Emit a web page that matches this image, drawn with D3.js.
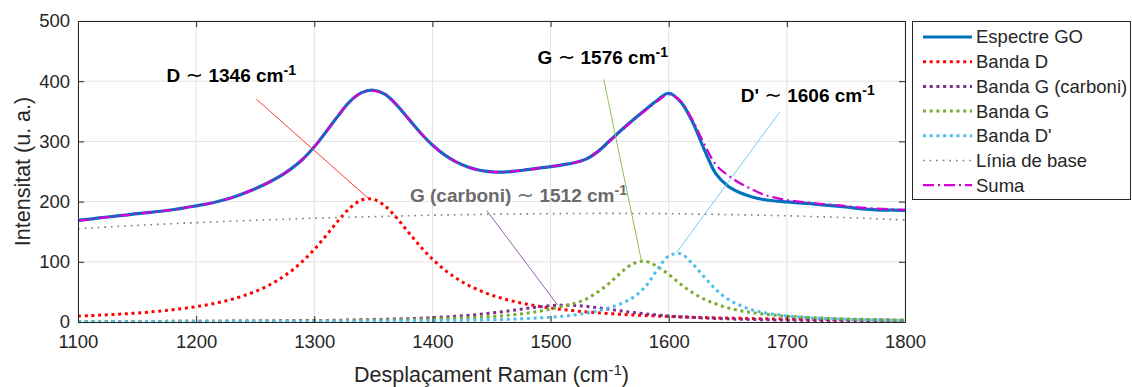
<!DOCTYPE html>
<html>
<head>
<meta charset="utf-8">
<script src="https://cdn.jsdelivr.net/npm/d3@7"></script>
<style>
  body { margin: 0; background: #fff; }
  text { font-family: "Liberation Sans", Arial, Helvetica, sans-serif; fill: #262626; }
</style>
</head>
<body>
<div id="chart"></div>
<script>
// Raman shift (cm-1), one sample every 10 cm-1
const ramanShift = [1100,1110,1120,1130,1140,1150,1160,1170,1180,1190,
  1200,1210,1220,1230,1240,1250,1260,1270,1280,1290,
  1300,1310,1320,1330,1340,1350,1360,1370,1380,1390,
  1400,1410,1420,1430,1440,1450,1460,1470,1480,1490,
  1500,1510,1520,1530,1540,1550,1560,1570,1580,1590,
  1600,1610,1620,1630,1640,1650,1660,1670,1680,1690,
  1700,1710,1720,1730,1740,1750,1760,1770,1780,1790,1800];

const espectreGO = [169,171,173.5,175.5,177.5,180,182,184,186.5,189.5,
  193,196.5,201,206.5,213.5,221.5,230.5,241,254,270,
  291,316,342,366,381,385,378,360,337,314,
  294,278,266,257.5,252,249.5,249,250.5,253,255.5,
  258,261,264.5,270.5,283,301,319,336,352,368,
  380,366,333,287,246,226,215,208,203.5,201,
  199.5,198,196.5,194.5,193,191,188.5,187,186,186,185.5];

const bandaD = [9.8,10.6,11.5,12.5,13.6,15.0,16.5,18.2,20.3,22.7,
  25.5,28.8,32.8,37.6,43.5,50.7,59.5,70.5,84.0,100.6,
  120.6,143.5,167.6,189.0,202.6,203.9,192.5,172.2,148.3,125.0,
  104.4,87.1,73.0,61.5,52.3,44.8,38.7,33.7,29.6,26.1,
  23.2,20.7,18.6,16.8,15.3,13.9,12.7,11.7,10.7,9.9,
  9.2,8.5,7.9,7.4,6.9,6.5,6.1,5.7,5.4,5.1,
  4.8,4.6,4.3,4.1,3.9,3.7,3.6,3.4,3.2,3.1,3.0];

const bandaGCarboni = [0.7,0.7,0.8,0.8,0.9,0.9,1.0,1.0,1.1,1.1,
  1.2,1.3,1.4,1.5,1.6,1.7,1.8,1.9,2.1,2.3,
  2.5,2.7,3.0,3.3,3.6,4.0,4.4,5.0,5.6,6.3,
  7.2,8.3,9.5,11.0,12.8,14.9,17.3,19.9,22.7,25.2,
  27.1,28.0,27.6,26.1,23.7,21.0,18.3,15.8,13.6,11.7,
  10.1,8.7,7.6,6.7,5.9,5.2,4.6,4.2,3.7,3.4,
  3.1,2.8,2.6,2.4,2.2,2.0,1.9,1.7,1.6,1.5,1.4];

const bandaG = [0.7,0.7,0.8,0.8,0.8,0.9,0.9,1.0,1.0,1.1,
  1.1,1.2,1.3,1.3,1.4,1.5,1.6,1.7,1.8,1.9,
  2.1,2.2,2.4,2.6,2.8,3.0,3.3,3.6,4.0,4.4,
  4.9,5.5,6.2,7.0,7.9,9.1,10.6,12.4,14.7,17.6,
  21.5,26.0,31.0,38.0,50.0,65.0,83.0,97.0,100.8,92.5,
  79.0,63.0,49.0,38.0,30.0,23.5,19.0,15.8,13.2,11.3,
  9.7,8.4,7.3,6.5,5.7,5.1,4.6,4.2,3.8,3.4,3.2];

const bandaDPrima = [0.4,0.4,0.4,0.4,0.4,0.5,0.5,0.5,0.5,0.6,
  0.6,0.6,0.6,0.7,0.7,0.8,0.8,0.9,0.9,1.0,
  1.0,1.1,1.2,1.3,1.4,1.5,1.6,1.7,1.9,2.0,
  2.2,2.5,2.7,3.0,3.4,3.8,4.4,5.0,5.8,6.8,
  8.0,9.6,11.7,14.6,18.6,24.0,31.0,41.0,58.0,86.0,
  109.5,113.5,97.0,75.0,54.0,38.0,28.0,20.5,15.8,12.5,
  10.0,8.3,7.0,6.0,5.2,4.5,3.9,3.5,3.1,2.8,2.5];

const liniaBase = [155,156.2,157.3,158.4,159.5,160.5,161.5,162.4,163.3,164.2,
  165,165.8,166.6,167.4,168.2,169,169.7,170.4,171.1,171.8,
  172.5,173,173.5,174,174.5,175,175.5,176,176.5,177,
  177.5,177.8,178.1,178.4,178.7,179,179.2,179.4,179.6,179.8,
  180,180.1,180.2,180.3,180.4,180.5,180.4,180.3,180.2,180.1,
  180,179.7,179.4,179.1,178.8,178.5,178.1,177.7,177.3,176.9,
  176.5,175.9,175.3,174.7,174.1,173.5,172.7,171.9,171.1,170.3,169.5];

const suma = [168,170.5,173,175.5,177.5,180,182,184,186.5,189.5,
  193,196.5,201,206.5,213.5,221.5,230.5,241,254,270,
  291,316,342,366,381,384,378,360,337,314,
  294,278,266,257.5,252,249.5,249,250.5,253,255.5,
  258,261,264.5,270.5,283,300,318,335,351,366,
  378,367,336,296,261,244,231,221,212,206.5,
  202.5,200,198,196,194.5,192.5,190.5,189,188,187,186.5];

const xTicks = [1100,1200,1300,1400,1500,1600,1700,1800];
const yTicks = [0,100,200,300,400,500];
const legendNames = ['Espectre GO','Banda D','Banda G (carboni)','Banda G',"Banda D'",'Línia de base','Suma'];

const width = 1132;
const height = 387;
const plot = { left: 78, right: 905, top: 21, bottom: 322 };

const svg = d3.select('#chart')
  .append('svg')
  .attr('width', width)
  .attr('height', height)
  .style('background', '#fff');

const x = d3.scaleLinear().domain([1100, 1800]).range([plot.left, plot.right]);
const y = d3.scaleLinear().domain([0, 500]).range([plot.bottom, plot.top]);

// *** grid *** //
const grid = svg.append('g');
grid.selectAll('line.gx').data(xTicks).join('line').attr('class', 'gx')
  .attr('x1', d => x(d)).attr('x2', d => x(d))
  .attr('y1', plot.top).attr('y2', plot.bottom)
  .attr('stroke', '#e3e3e3').attr('stroke-width', 1);
grid.selectAll('line.gy').data(yTicks).join('line').attr('class', 'gy')
  .attr('x1', plot.left).attr('x2', plot.right)
  .attr('y1', d => y(d)).attr('y2', d => y(d))
  .attr('stroke', '#e3e3e3').attr('stroke-width', 1);

// *** series *** //
const series = [
  { name: legendNames[6], values: suma, color: '#d600d6', width: 2.2, dash: '11,4,2,4' },
  { name: legendNames[5], values: liniaBase, color: '#7a7a7a', width: 1.6, dash: '1.6,5' },
  { name: legendNames[1], values: bandaD, color: '#ff0000', width: 3, dash: '3,3.7' },
  { name: legendNames[2], values: bandaGCarboni, color: '#7e2f8e', width: 3, dash: '3,3.7' },
  { name: legendNames[3], values: bandaG, color: '#77ac30', width: 3, dash: '3,3.7' },
  { name: legendNames[4], values: bandaDPrima, color: '#4dbeee', width: 3, dash: '3,3.7' },
  { name: legendNames[0], values: espectreGO, color: '#0072bd', width: 3.2, dash: null }
];

const line = d3.line()
  .x((d, i) => x(ramanShift[i]))
  .y(d => y(d))
  .curve(d3.curveCatmullRom.alpha(0.5));

const drawOrder = [6, 2, 3, 4, 5, 1, 0];
const lines = svg.append('g');
drawOrder.forEach(k => {
  const s = series[k];
  lines.append('path')
    .datum(s.values)
    .attr('d', line)
    .attr('fill', 'none')
    .attr('stroke', s.color)
    .attr('stroke-width', s.width)
    .attr('stroke-dasharray', s.dash)
    .attr('stroke-linejoin', 'round');
});

// *** annotations *** //
const annotations = [
  { name: 'D', wave: '1346', color: '#000', lineColor: '#ff3b3b', tx: 1175, ty: 398, from: [1251, 370], to: [1346, 205] },
  { name: 'G (carboni)', wave: '1512', color: '#6b6b6b', lineColor: '#9a62b0', tx: 1381, ty: 200, from: [1446, 185], to: [1506, 28] },
  { name: 'G', wave: '1576', color: '#000', lineColor: '#8cc152', tx: 1489, ty: 429, from: [1545, 403], to: [1577, 101] },
  { name: "D'", wave: '1606', color: '#000', lineColor: '#6fcdf2', tx: 1661, ty: 366, from: [1694, 349], to: [1606.5, 115] }
];

const ann = svg.append('g');
annotations.forEach(a => {
  ann.append('line')
    .attr('x1', x(a.from[0])).attr('y1', y(a.from[1]))
    .attr('x2', x(a.to[0])).attr('y2', y(a.to[1]))
    .attr('stroke', a.lineColor).attr('stroke-width', 1);
  const t = ann.append('text')
    .attr('x', x(a.tx)).attr('y', y(a.ty))
    .style('font-size', '19px').style('font-weight', 'bold').style('fill', a.color);
  t.append('tspan').text(a.name + ' ');
  t.append('tspan').style('font-weight', 'normal').style('font-family', 'DejaVu Sans').style('font-size', '21px').text('∼');
  t.append('tspan').text(' ' + a.wave + ' cm');
  t.append('tspan').attr('dy', '-0.5em').style('font-size', '14px').text('-1');
});

// *** axes *** //
const xAxis = svg.append('g')
  .attr('transform', `translate(0,${plot.bottom})`)
  .call(d3.axisBottom(x).tickValues(xTicks).tickSize(-6).tickPadding(13).tickFormat(d3.format('d')));
const xAxisTop = svg.append('g')
  .attr('transform', `translate(0,${plot.top})`)
  .call(d3.axisTop(x).tickValues(xTicks).tickSize(-6).tickFormat(''));
const yAxis = svg.append('g')
  .attr('transform', `translate(${plot.left},0)`)
  .call(d3.axisLeft(y).tickValues(yTicks).tickSize(-6).tickPadding(8));
const yAxisRight = svg.append('g')
  .attr('transform', `translate(${plot.right},0)`)
  .call(d3.axisRight(y).tickValues(yTicks).tickSize(-6).tickFormat(''));

[xAxis, xAxisTop, yAxis, yAxisRight].forEach(g => {
  g.select('.domain').attr('stroke', '#262626').attr('stroke-width', 1);
  g.selectAll('.tick line').attr('stroke', '#262626').attr('stroke-width', 1);
  g.selectAll('.tick text').style('font-size', '18.5px').style('fill', '#262626')
    .style('font-family', '"Liberation Sans", Arial, sans-serif');
});

// *** axis labels *** //
const xLabel = svg.append('text')
  .attr('x', (plot.left + plot.right) / 2)
  .attr('y', 382)
  .attr('text-anchor', 'middle')
  .style('font-size', '21.5px');
xLabel.append('tspan').text('Desplaçament Raman (cm');
xLabel.append('tspan').attr('dy', '-0.5em').style('font-size', '15px').text('-1');
xLabel.append('tspan').attr('dy', '0.36em').text(')');

svg.append('text')
  .attr('transform', `translate(30,${(plot.top + plot.bottom) / 2}) rotate(-90)`)
  .attr('text-anchor', 'middle')
  .style('font-size', '21.5px')
  .text('Intensitat (u. a.)');

// *** legend *** //
const legend = svg.append('g');
legend.append('rect')
  .attr('x', 912.5).attr('y', 21.5)
  .attr('width', 218).attr('height', 178)
  .attr('fill', '#fff').attr('stroke', '#262626').attr('stroke-width', 1);

const legendItems = [6, 2, 3, 4, 5, 1, 0].map(k => series[k]);
legendItems.forEach((s, i) => {
  const cy = 37 + i * 24.7;
  legend.append('line')
    .attr('x1', 923).attr('x2', 972)
    .attr('y1', cy).attr('y2', cy)
    .attr('stroke', s.color)
    .attr('stroke-width', s.width)
    .attr('stroke-dasharray', s.dash);
  legend.append('text')
    .attr('x', 976).attr('y', cy)
    .attr('dy', '0.35em')
    .style('font-size', '18.5px')
    .text(s.name);
});
</script>
</body>
</html>
